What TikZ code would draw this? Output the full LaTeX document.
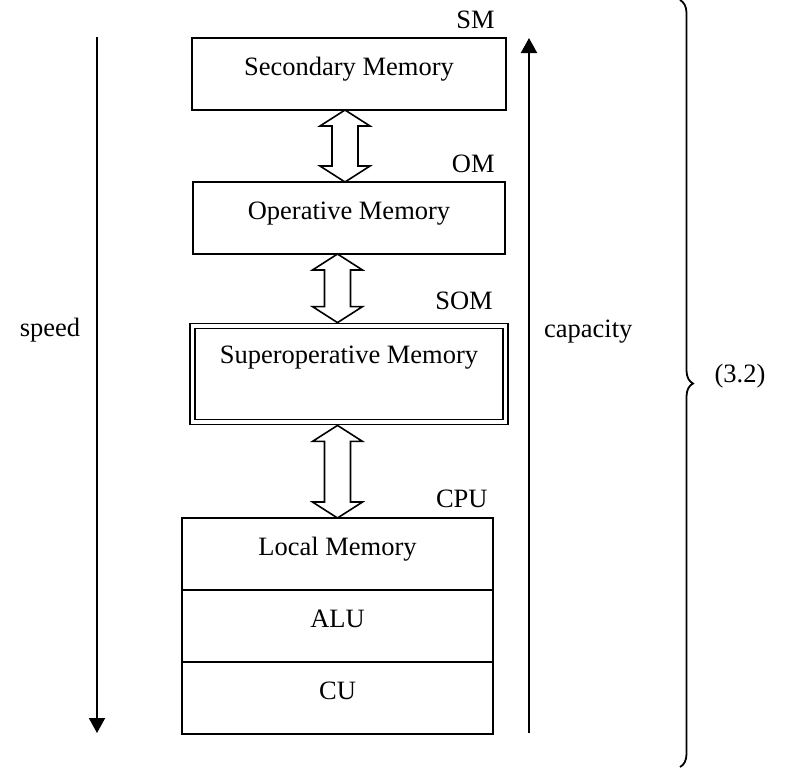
\documentclass[tikz,border=0pt]{standalone}
\usepackage{fontspec}
\setmainfont{Liberation Serif}
\usepackage{tikz}
\usetikzlibrary{arrows.meta, positioning, calc, decorations.pathreplacing}

\newcommand{\busarrow}[2]{%
  \draw[bus] (#1) -- ++(25,16) -- ++(-12,0) -- ($(#2)+(13,-16)$) -- ++(12,0)
    -- (#2) -- ++(-25,-16) -- ++(12,0) -- ($(#1)+(-13,16)$) -- ++(-12,0) -- cycle;}

\begin{document}
\begin{tikzpicture}[x=0.5pt, y=-0.5pt,
    every node/.style={font=\fontsize{13.25}{16}\selectfont},
    membox/.style={draw, line width=0.8pt, minimum width=157pt, minimum height=36pt,
      inner sep=0pt, outer sep=0pt, text height=10pt, text depth=9pt},
    tag/.style={anchor=base east, inner sep=0pt},
    bus/.style={draw, line width=0.8pt, fill=white, line join=miter},
    axis/.style={line width=1pt, -{Triangle[length=7.5pt, width=8pt]}}]
    \useasboundingbox (0,0) rectangle (792,767);
    % memory levels
    \node[membox] (sm) at (349,74) {Secondary Memory};
    \node[membox, minimum width=156pt] (om) at (349,218) {Operative Memory};
    \node[membox, double, double distance=1.6pt, line width=0.9pt, outer sep=1.7pt,
      minimum width=156.75pt, minimum height=48pt, text depth=21pt] (som) at (349,374) {Superoperative Memory};
    % processor
    \node[membox, minimum width=155.5pt, anchor=north] (lm) at (337.5,518) {Local Memory};
    \node[membox, minimum width=155.5pt, below=0pt of lm] (alu) {ALU};
    \node[membox, minimum width=155.5pt, below=0pt of alu] (cu) {CU};
    \node[tag] (smtag) at ($(sm.north east)+(-11,-10)$) {SM};
    \node[tag] (omtag) at ($(om.north east)+(-10,-10)$) {OM};
    \node[tag] (somtag) at ($(som.north east)+(-16,-13)$) {SOM};
    \node[tag] (cputag) at ($(lm.north east)+(-5,-11)$) {CPU};
    % transfers
    \coordinate (b1top) at ($(sm.south)+(-4,0)$);
    \coordinate (b1bot) at (b1top |- om.north);
    \coordinate (b2top) at (om.south -| lm.north);
    \coordinate (b2bot) at (b2top |- som.north);
    \coordinate (b3top) at (som.south -| lm.north);
    \busarrow{b1top}{b1bot}
    \busarrow{b2top}{b2bot}
    \busarrow{b3top}{lm.north}
    % speed and capacity
    \coordinate (spdtop) at (97,37);
    \coordinate (spdbot) at (97,733);
    \coordinate (capbot) at (529,733);
    \coordinate (captop) at (529,38);
    \draw[axis] (spdtop) -- (spdbot);
    \draw[axis] (capbot) -- (captop);
    \node[anchor=base] (speed) at (50,336) {speed};
    \node[anchor=base west] (capacity) at (537,337) {capacity};
    % brace
    \coordinate (bracetop) at (680,0);
    \coordinate (bracebot) at (680,767);
    \draw[line width=0.9pt, decorate, decoration={brace, amplitude=6.5pt}] (bracetop) -- (bracebot);
    \node[anchor=base] (eqno) at (740,382) {(3.2)};
\end{tikzpicture}
\end{document}
